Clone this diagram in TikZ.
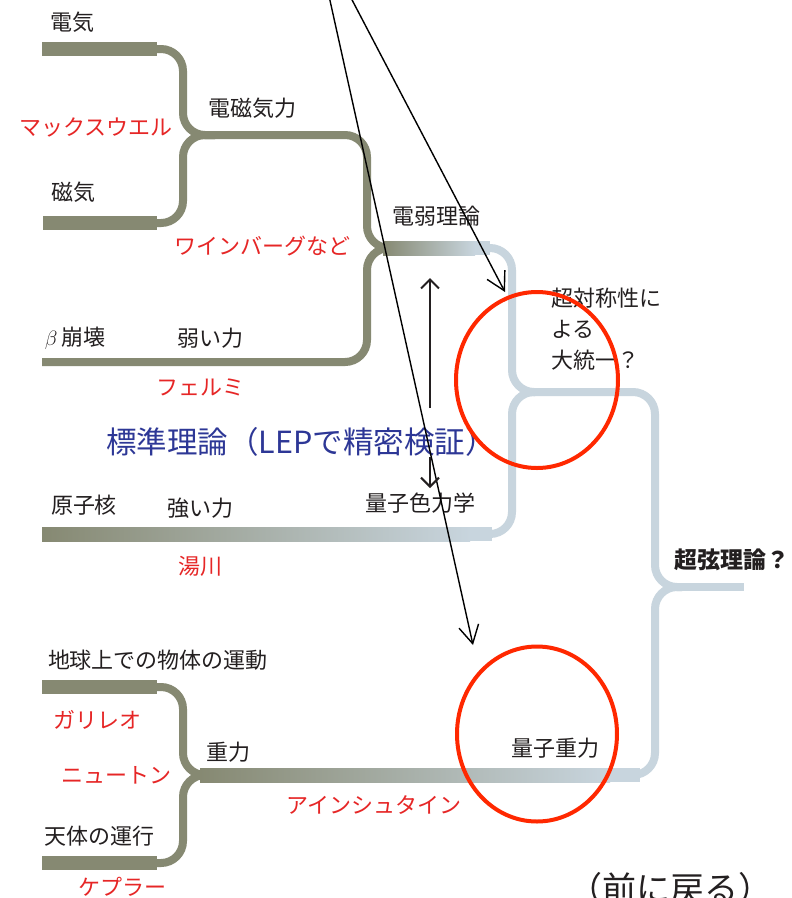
\documentclass[tikz,border=0pt]{standalone}
\usepackage{fontspec}
\setmainfont{Noto Sans CJK JP}
\usetikzlibrary{arrows.meta,shapes.geometric}
\definecolor{trunk}{RGB}{134,137,114}
\definecolor{lightb}{RGB}{200,213,222}
\definecolor{ink}{RGB}{35,31,32}
\definecolor{redtxt}{RGB}{230,38,38}
\definecolor{redring}{RGB}{255,40,0}
\definecolor{bluetxt}{RGB}{45,55,150}
\begin{document}
\begin{tikzpicture}[x=1pt,y=-1pt,
  thinline/.style={line width=8pt, rounded corners=22pt},
  oline/.style={thinline, draw=trunk},
  bline/.style={thinline, draw=lightb},
  lbl/.style={font=\fontsize{22}{26}\selectfont, text=ink, inner sep=0pt},
  rlbl/.style={lbl, text=redtxt},
  ring/.style={draw=redring, line width=4pt},
  pointer/.style={draw=black, line width=1.4pt, -{Straight Barb[length=18pt,width=20pt,line width=1.4pt]}},
  vpointer/.style={draw=ink, line width=2pt, -{Straight Barb[length=9pt,width=18pt,line width=2pt]}}]
\useasboundingbox (0,0) rectangle (792,898);
\fill[white] (0,0) rectangle (792,898);

% ---- top group: electricity + magnetism
\fill[trunk] (42,42) rectangle (157,56);
\draw[oline] (154,49) -- (183,49) -- (183,135) -- (215,135);
\fill[trunk] (43,216) rectangle (157,230);
\draw[oline] (154,223) -- (183,223) -- (183,135) -- (215,135);
% electromagnetism + weak -> electroweak
\draw[oline] (195,135) -- (367,135) -- (367,248) -- (397,248);
\draw[oline] (42,362) -- (367,362) -- (367,248) -- (397,248);
\shade[left color=trunk, right color=lightb] (383,241) rectangle (475,255);
\fill[lightb] (474.5,241) rectangle (490,255);
% electroweak + strong -> GUT
\draw[bline] (487,248) -- (512,248) -- (512,392) -- (535,392);
\shade[left color=trunk, right color=lightb] (42,527) rectangle (470,541);
\fill[lightb] (469.5,527) rectangle (492,541);
\draw[bline] (489,534) -- (512,534) -- (512,392) -- (535,392);
% GUT + gravity -> superstring
\draw[bline] (522,392) -- (655,392) -- (655,587) -- (682,587);
\draw[bline] (665,587) -- (744,587);
% ---- gravity group
\fill[trunk] (42,680) rectangle (157,694);
\draw[oline] (154,687) -- (183,687) -- (183,775) -- (212,775);
\fill[trunk] (42,856) rectangle (157,870);
\draw[oline] (154,863) -- (183,863) -- (183,775) -- (212,775);
\shade[left color=trunk, right color=lightb] (200,768) rectangle (610,782);
\fill[lightb] (609.5,768) rectangle (640,782);
\draw[bline] (636,775) -- (655,775) -- (655,587) -- (682,587);

% ---- labels
\node[lbl] (elec) at (72,22) {電気};
\node[lbl] (em) at (252,108) {電磁気力};
\node[rlbl] (maxwell) at (96,127) {マックスウエル};
\node[lbl] (mag) at (74,192) {磁気};
\node[rlbl] (weinberg) at (262,246) {ワインバーグなど};
\node[lbl] (ew) at (436,216) {電弱理論};
\node[lbl] (beta) at (75,338) {$\beta$\,崩壊};
\node[lbl] (weak) at (210,338) {弱い力};
\node[rlbl] (fermi) at (200,387) {フェルミ};
\node[lbl, font=\fontsize{30.5}{34}\selectfont, text=bluetxt] (sm) at (301,442) {標準理論（LEPで精密検証）};
\node[lbl] (nuc) at (84,505) {原子核};
\node[lbl] (strong) at (200,508) {強い力};
\node[lbl] (qcd) at (420,503) {量子色力学};
\node[rlbl] (yukawa) at (200,566) {湯川};
\node[lbl, align=left, anchor=north west, font=\fontsize{22}{31}\selectfont] (gut) at (551,288) {超対称性に\\よる\\大統一？};
\node[lbl, font=\fontsize{23}{27}\selectfont\bfseries] (ss) at (732,560) {超弦理論？};
\node[lbl] (earth) at (158,660) {地球上での物体の運動};
\node[rlbl] (galileo) at (97,720) {ガリレオ};
\node[rlbl] (newton) at (116,775) {ニュートン};
\node[lbl] (grav) at (228,752) {重力};
\node[lbl] (qg) at (555,748) {量子重力};
\node[rlbl] (einstein) at (374,805) {アインシュタイン};
\node[lbl] (sky) at (100,836) {天体の運行};
\node[rlbl] (kepler) at (122,887) {ケプラー};
\node[lbl, font=\fontsize{34}{38}\selectfont] (back) at (670,889) {（前に戻る）};

% ---- arrows
\coordinate (s1) at (329,-4);
\coordinate (t1) at (473,645);
\coordinate (s2) at (350,-4);
\coordinate (t2) at (505,292);
\draw[pointer] (s1) -- (t1);
\draw[pointer] (s2) -- (t2);
\coordinate (u0) at (430,408);
\coordinate (u1) at (430,278);
\coordinate (d0) at (430,457);
\coordinate (d1) at (430,488);
\draw[vpointer] (u0) -- (u1);
\draw[vpointer] (d0) -- (d1);

% ---- red rings
\node[ring, ellipse, minimum width=162pt, minimum height=176pt, inner sep=0pt] (ring1) at (537,380) {};
\node[ring, ellipse, minimum width=160pt, minimum height=175pt, inner sep=0pt] (ring2) at (537,734) {};
\end{tikzpicture}
\end{document}
